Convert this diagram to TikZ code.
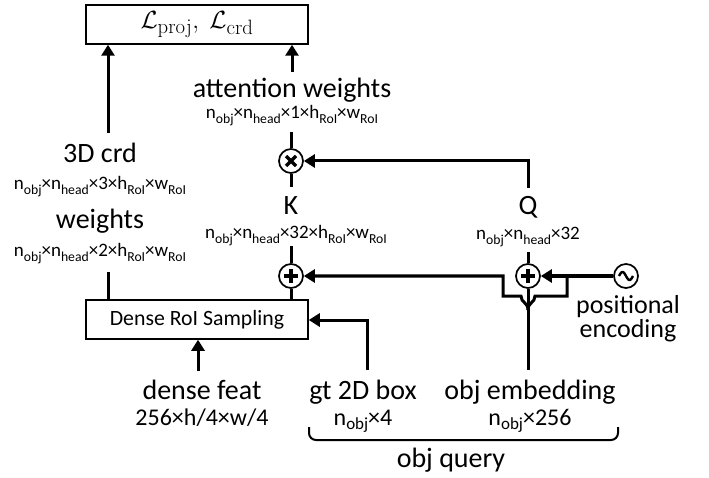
\documentclass[tikz,border=0pt]{standalone}
\usepackage[no-math]{fontspec}
\setmainfont{Carlito}
\usetikzlibrary{arrows.meta}
\DeclareMathSizes{27}{27}{21.5}{17}
\newcommand\dn[1]{\raisebox{-0.22em}{\fontsize{13.7}{14}\selectfont #1}}
\newcommand\dnb[1]{\raisebox{-0.2em}{\fontsize{17}{18}\selectfont #1}}
\tikzset{
  wire/.style={line width=3pt},
  arr/.style={wire,-{Triangle[length=11pt,width=13pt]}},
  box/.style={draw,line width=1.5pt,minimum width=222pt,minimum height=39pt,inner sep=0pt},
  op/.style={draw,circle,line width=1.7pt,minimum size=24pt,inner sep=0pt},
  big/.style={font=\fontsize{28}{30}\selectfont,inner sep=0pt,anchor=base},
  mid/.style={font=\fontsize{26}{28}\selectfont,inner sep=0pt,anchor=base},
  small/.style={font=\fontsize{19}{21}\selectfont,inner sep=0pt,anchor=base},
  smallb/.style={font=\fontsize{24}{26}\selectfont,inner sep=0pt,anchor=base},
}
\begin{document}
\begin{tikzpicture}[x=1pt,y=-1pt]
\useasboundingbox (0,0) rectangle (709,478);
% boxes
\node[box,font=\fontsize{27}{29}\selectfont] (loss) at (197,24.5) {$\mathcal{L}_{\mathrm{proj}},\ \mathcal{L}_{\mathrm{crd}}$};
\node[box,font=\fontsize{21.8}{24}\selectfont] (dense) at (197,319.5) {Dense RoI Sampling};
% operators
\node[op] (mul) at (291,161) {};
\node[op] (addk) at (291,276) {};
\node[op] (addq) at (528,276) {};
\node[op] (pe) at (626,276) {};
\draw[line width=3.2pt] (mul.center) ++(-5,-5) -- ++(10,10) (mul.center) ++(5,-5) -- ++(-10,10);
\draw[line width=3.2pt] (addk.center) ++(-7,0) -- ++(14,0) (addk.center) ++(0,-7) -- ++(0,14);
\draw[line width=3.2pt] (addq.center) ++(-7,0) -- ++(14,0) (addq.center) ++(0,-7) -- ++(0,14);
\draw[line width=2.4pt,shift={(pe.center)}] plot[domain=-1:1,samples=40,smooth] ({7*\x},{4*sin(180*\x)});
% labels
\node[big] (att) at (292,98) {attention weights};
\node[small] (attd) at (292,119) {n\dn{obj}×n\dn{head}×1×h\dn{RoI}×w\dn{RoI}};
\node[big] (crd) at (100,163) {3D crd};
\node[small] (crdd) at (100,190) {n\dn{obj}×n\dn{head}×3×h\dn{RoI}×w\dn{RoI}};
\node[big] (wts) at (100,229) {weights};
\node[small] (wtsd) at (100,257) {n\dn{obj}×n\dn{head}×2×h\dn{RoI}×w\dn{RoI}};
\node[big] (K) at (291,215) {K};
\node[small] (Kd) at (296,239) {n\dn{obj}×n\dn{head}×32×h\dn{RoI}×w\dn{RoI}};
\node[big] (Q) at (528,215) {Q};
\node[small] (Qd) at (528,240) {n\dn{obj}×n\dn{head}×32};
\node[mid] (pos) at (628,313) {positional};
\node[mid] (enc) at (628,337) {encoding};
\node[big] (df) at (202,399) {dense feat};
\node[smallb] (dfd) at (202,425) {256×h/4×w/4};
\node[big] (gt) at (363,399) {gt 2D box};
\node[smallb] (gtd) at (363,425) {n\dnb{obj}×4};
\node[big] (emb) at (530,399) {obj embedding};
\node[smallb] (embd) at (530,425) {n\dnb{obj}×256};
\node[big] (oq) at (451,467) {obj query};
% coordinates
\coordinate (c1) at (108,133);
\coordinate (c2) at (108,272);
\coordinate (c3) at (292,72);
\coordinate (c4) at (291,132);
\coordinate (c5) at (291,187);
\coordinate (c6) at (291,246);
\coordinate (q1) at (528,188);
\coordinate (q2) at (528,161);
\coordinate (q3) at (528,252);
\coordinate (d1) at (198,371);
\coordinate (g1) at (367,370);
\coordinate (g2) at (367,320);
\coordinate (e1) at (528,370);
\coordinate (f0) at (528,310);
\coordinate (fl) at (503,296);
\coordinate (fr) at (567,296);
\coordinate (b1) at (309,427);
\coordinate (b2) at (618,427);
% connectors
\draw[arr] (c1) -- (c1 |- loss.south);
\draw[wire] (c2) -- (c2 |- dense.north);
\draw[arr] (c3) -- (c3 |- loss.south);
\draw[wire] (c4) -- (mul.north);
\draw[wire] (mul.south) -- (c5);
\draw[wire] (c6) -- (addk.north);
\draw[wire] (addk.south) -- (addk.south |- dense.north);
\draw[arr] (q1) -- (q2) -- (mul.east);
\draw[wire] (q3) -- (addq.north);
\draw[wire] (e1) -- (addq.south);
\draw[arr] (f0) .. controls (528,302) and (521,303) .. (521,296) -- (fl) -- (fl |- addk.east) -- (addk.east);
\draw[wire] (f0) .. controls (528,302) and (535,303) .. (535,296) -- (fr) -- (fr |- pe.west);
\draw[arr] (pe.west) -- (addq.east);
\draw[arr] (d1) -- (d1 |- dense.south);
\draw[arr] (g1) -- (g2) -- (g2 -| dense.east);
\draw[line width=2pt,rounded corners=7pt] (b1) -- (b1 |- 0,440) -- (b2 |- 0,440) -- (b2);
\end{tikzpicture}
\end{document}
